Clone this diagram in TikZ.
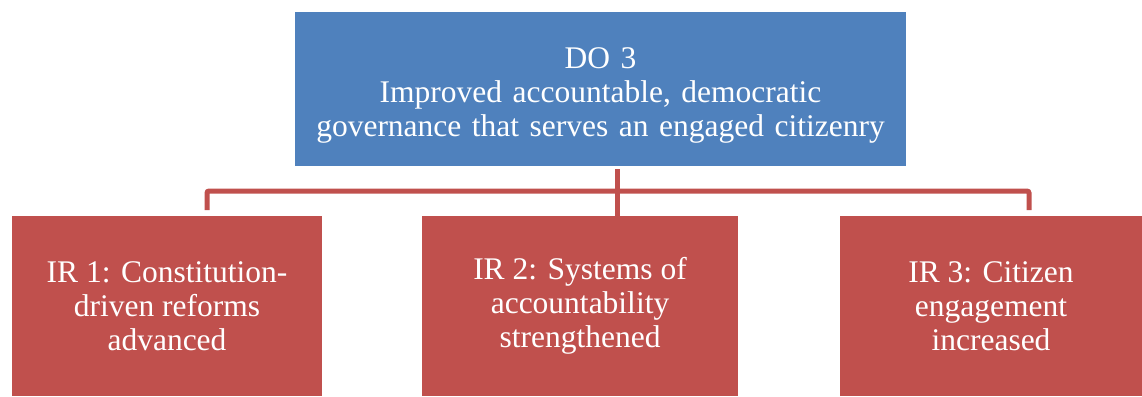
\documentclass[tikz,border=0pt]{standalone}
\usepackage{fontspec}
\setmainfont{Liberation Serif}
\definecolor{doblue}{HTML}{4F81BD}
\definecolor{irred}{HTML}{C0504D}
\begin{document}
\begin{tikzpicture}[x=1pt,y=1pt,
  box/.style={draw=none, inner sep=0pt, align=center, text=white,
    font=\fontsize{31.5}{34}\selectfont},
  link/.style={draw=irred, line width=5pt, rounded corners=2pt}]
\useasboundingbox (0,0) rectangle (1142,-396);
\node[box, fill=doblue, minimum width=611pt, minimum height=154pt] (do) at (600.5,-89)
  {};
\node[box, text width=600pt] (dotext) at (600.5,-95)
  {DO 3\\Improved accountable, democratic\\governance that serves an engaged citizenry};
\node[box, fill=irred, minimum width=310pt, minimum height=180pt] (ir1) at (167,-306)
  {IR 1: Constitution-\\driven reforms\\advanced};
\node[box, fill=irred, minimum width=316pt, minimum height=180pt] (ir2) at (580,-306)
  {IR 2: Systems of\\accountability\\strengthened};
\node[box, fill=irred, minimum width=302pt, minimum height=180pt] (ir3) at (991,-306)
  {IR 3: Citizen\\engagement\\increased};
\coordinate (j) at (617,-191);
\coordinate (l) at (207,-210);
\coordinate (r) at (1029,-210);
\draw[link] (l) |- (j) -| (r);
\draw[link] ([yshift=-3pt]do.south -| j) -- (ir2.north -| j);
\end{tikzpicture}
\end{document}
